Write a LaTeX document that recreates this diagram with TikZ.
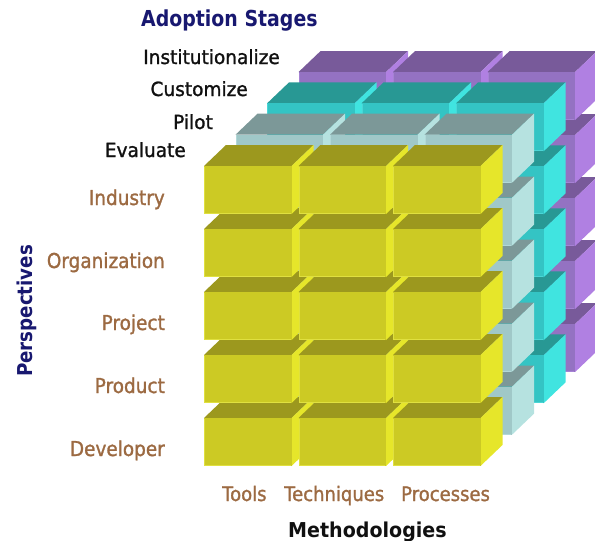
\documentclass[tikz,border=0pt]{standalone}
\usepackage{fontspec}
\setmainfont{DejaVu Sans}[FakeStretch=0.9, FakeBold=1.3]
\newfontfamily\stagefont{DejaVu Sans}[FakeStretch=0.95, FakeBold=1.3]
\newfontfamily\headfont{DejaVu Sans}[FakeStretch=0.86]
\newfontfamily\perspfont{DejaVu Sans}[FakeStretch=0.89]
\newfontfamily\methfont{DejaVu Sans}[FakeStretch=0.93]

% face colours of the four block layers: F front, T top, R right side, E edge highlight
\definecolor{evalF}{RGB}{204,202,36}
\definecolor{evalT}{RGB}{156,152,30}
\definecolor{evalR}{RGB}{230,230,42}
\definecolor{evalE}{RGB}{224,224,64}
\definecolor{pilotF}{RGB}{160,200,200}
\definecolor{pilotT}{RGB}{124,152,152}
\definecolor{pilotR}{RGB}{182,226,224}
\definecolor{pilotE}{RGB}{178,216,216}
\definecolor{custF}{RGB}{52,196,196}
\definecolor{custT}{RGB}{40,152,148}
\definecolor{custR}{RGB}{64,228,224}
\definecolor{custE}{RGB}{74,214,214}
\definecolor{instF}{RGB}{148,114,194}
\definecolor{instT}{RGB}{120,90,154}
\definecolor{instR}{RGB}{176,128,226}
\definecolor{instE}{RGB}{166,130,212}
\definecolor{navy}{RGB}{24,24,112}
\definecolor{tan}{RGB}{156,106,66}
\definecolor{ink}{RGB}{16,16,16}

% block size and oblique depth offset
\newcommand\bw{87.5}
\newcommand\bh{48}
\newcommand\ddx{22}
\newcommand\ddy{21}

% one block: #1,#2 top-left corner of the front face, #3 colour prefix
\newcommand\drawblock[3]{%
  \fill[#3T] (#1,#2) -- ++(\bw,0) -- ++(\ddx,-\ddy) -- ++(-\bw,0) -- cycle;
  \fill[#3R] (#1+\bw,#2) -- ++(\ddx,-\ddy) -- ++(0,\bh) -- ++(-\ddx,\ddy) -- cycle;
  \fill[#3F] (#1,#2) rectangle ++(\bw,\bh);
  \draw[#3E, line width=1.2pt] (#1+0.6,#2+0.6) -- (#1+0.6,#2+\bh-0.6) -- (#1+\bw-0.6,#2+\bh-0.6);
}

\tikzset{
  rowlabel/.style={anchor=base east, text=tan, font=\fontsize{20.5}{24}\selectfont, inner sep=0pt},
  collabel/.style={anchor=base west, text=tan, font=\fontsize{20}{24}\selectfont, inner sep=0pt},
  stagelabel/.style={anchor=base east, text=ink, font=\stagefont\fontsize{19.5}{23}\selectfont, inner sep=0pt},
  heading/.style={text=navy, inner sep=0pt},
}

\begin{document}
\begin{tikzpicture}[x=1pt,y=-1pt]
\useasboundingbox (0,0) rectangle (595,541);

% layers from back (Institutionalize) to front (Evaluate);
% rows bottom to top, columns left to right
\foreach \k/\c in {3/inst,2/cust,1/pilot,0/eval}{
  \foreach \r in {4,3,2,1,0}{
    \foreach \col in {0,1,2}{
      \pgfmathsetmacro\bx{204+94.5*\col+31.5*\k}
      \pgfmathsetmacro\by{166+63*\r-31.3*\k}
      \drawblock{\bx}{\by}{\c}
    }
  }
}

% axis titles
\node[heading, anchor=base west, font=\headfont\bfseries\fontsize{22}{26}\selectfont] (stages) at (141,26) {Adoption Stages};
\node[heading, anchor=base, rotate=90, font=\perspfont\bfseries\fontsize{20.5}{24}\selectfont] (persp) at (32,311) {Perspectives};
\node[heading, text=ink, anchor=base west, font=\methfont\bfseries\fontsize{20.5}{24}\selectfont] (methods) at (288,537) {Methodologies};

% adoption stages
\node[stagelabel] (inst)  at (280,64)  {Institutionalize};
\node[stagelabel] (cust)  at (248,96)  {Customize};
\node[stagelabel] (pilot) at (213,129) {Pilot};
\node[stagelabel] (eval)  at (186,157) {Evaluate};

% perspectives
\node[rowlabel] (industry) at (165,205) {Industry};
\node[rowlabel] (org)      at (165,268) {Organization};
\node[rowlabel] (project)  at (165,330) {Project};
\node[rowlabel] (product)  at (165,393) {Product};
\node[rowlabel] (dev)      at (165,456) {Developer};

% methodologies
\node[collabel] (tools)      at (222,501) {Tools};
\node[collabel] (techniques) at (284,501) {Techniques};
\node[collabel] (processes)  at (401,501) {Processes};
\end{tikzpicture}
\end{document}
